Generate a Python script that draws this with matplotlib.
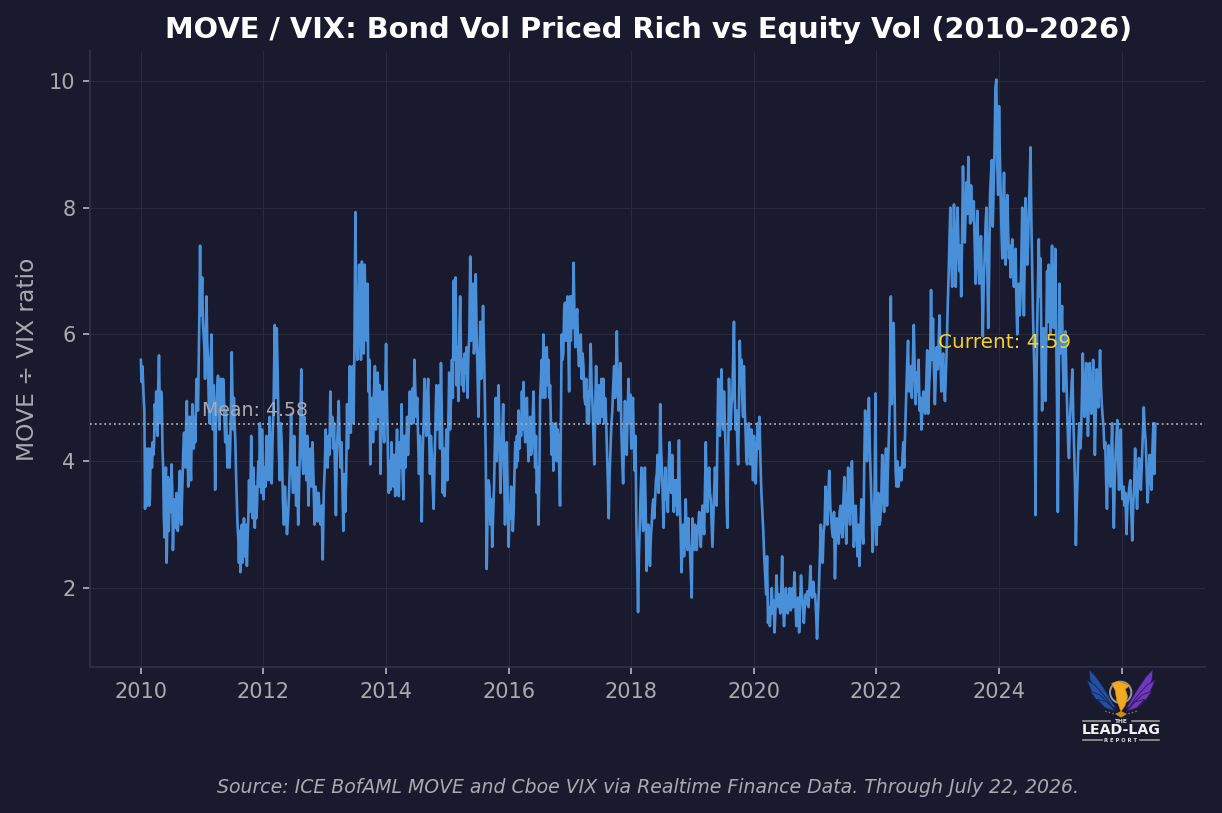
import numpy as np
import matplotlib
matplotlib.use('Agg')
import matplotlib.pyplot as plt
from matplotlib.patches import Polygon, Circle

# MOVE / VIX ratio, one list per calendar year, spread evenly across the year
ratio2010 = [5.6, 5.25, 5.5, 5.3, 5.0, 4.8, 3.25, 4.0, 4.2, 3.3, 3.9, 4.2, 3.3, 3.4, 4.2, 4.0, 3.9, 4.3, 4.1, 4.3,
             4.9, 4.7, 5.1, 4.5, 4.4, 5.2, 5.67, 4.9, 4.6, 5.1, 5.0, 4.2, 3.9, 3.1, 2.8, 3.6, 3.9, 2.4, 3.0, 3.75,
             2.9, 3.3, 3.7, 3.2, 3.95, 3.6, 2.6, 3.0, 3.4, 2.95, 3.0, 3.5, 3.3, 2.9, 3.1, 3.6, 3.85, 3.2, 3.0, 3.4,
             3.8, 4.2, 4.45, 4.0, 3.9, 4.6, 4.95, 4.2, 3.6, 4.2, 4.7, 4.0, 3.7, 4.5, 4.9, 4.3, 4.2, 4.7, 4.3, 4.8,
             5.3, 4.9, 4.8, 5.6, 6.3, 7.4, 6.3, 6.5]
ratio2011 = [6.9, 6.2, 6.0, 5.8, 5.3, 6.0, 6.6, 5.9, 5.6, 5.0, 4.6, 5.5, 5.7, 6.0, 5.0, 4.5, 5.2, 4.7, 3.55, 4.5,
             4.9, 5.2, 5.35, 4.9, 4.5, 5.0, 5.3, 5.0, 4.8, 5.3, 5.1, 4.6, 4.3, 4.8, 4.4, 3.9, 4.2, 4.4, 3.9, 4.3,
             4.9, 5.72, 5.0, 4.5, 5.0, 4.6, 4.3, 3.8, 3.4, 3.0, 2.8, 2.4, 2.9, 2.25, 2.6, 3.0, 2.4, 2.8, 3.1, 2.5,
             2.9, 3.0, 2.35, 2.8, 3.1, 3.7, 3.2, 3.6, 4.4, 3.6, 3.1, 3.9, 3.4, 2.95, 3.6, 3.1, 3.3, 3.7, 4.0, 3.6,
             4.6, 4.0, 3.5, 4.5, 3.9]
ratio2012 = [3.4, 3.9, 3.6, 4.4, 3.9, 3.7, 4.7, 4.1, 3.65, 4.4, 5.0, 6.15, 5.0, 6.1, 5.3, 4.2, 3.7, 4.6, 4.2, 3.4,
             3.0, 3.6, 3.2, 2.85, 3.1, 3.5, 4.0, 4.75, 3.9, 3.5, 4.4, 3.8, 3.3, 3.9, 3.0, 3.7, 4.5, 5.45, 4.1, 3.8,
             4.7, 4.1, 3.7, 4.4, 3.3, 3.8, 4.2, 3.6, 4.3, 3.7, 3.0, 3.6, 3.4, 3.05, 3.5, 3.1, 3.0, 3.3, 2.45, 3.5]
ratio2013 = [3.9, 4.5, 4.0, 3.9, 4.4, 4.1, 5.1, 4.4, 4.7, 4.2, 4.6, 3.9, 3.15, 4.2, 4.5, 4.95, 4.3, 3.9, 4.3, 3.6,
             2.9, 3.8, 3.2, 3.7, 4.9, 4.2, 4.7, 5.5, 4.45, 5.1, 5.5, 4.6, 5.9, 7.93, 6.2, 5.6, 6.0, 7.1, 6.1, 5.6,
             7.15, 6.0, 5.7, 7.1, 6.2, 5.9, 6.8, 5.1, 5.6, 3.95, 4.7, 5.0, 4.3, 5.1, 5.5, 4.5, 5.1, 5.4, 4.7, 5.2,
             3.8, 4.6, 5.1, 4.6, 4.3, 5.0]
ratio2014 = [5.85, 4.9, 4.2, 3.5, 4.0, 3.55, 4.3, 3.9, 3.6, 4.1, 3.45, 4.0, 4.5, 3.7, 3.45, 4.3, 3.9, 4.9, 3.8, 3.4,
             4.4, 3.9, 4.2, 4.7, 4.1, 4.6, 5.1, 4.6, 4.8, 5.15, 4.6, 5.6, 5.1, 4.7, 5.0, 4.4, 3.8, 4.4, 4.0, 3.05,
             4.1, 4.6, 5.3, 4.8, 4.4, 5.0, 5.3, 4.5, 3.8, 4.4, 4.1, 3.6, 3.25, 4.0, 4.6, 5.2, 4.5, 4.7, 5.2, 4.2,
             5.55, 4.7, 3.5, 4.2, 3.45, 4.0, 4.5]
ratio2015 = [3.7, 4.6, 5.4, 4.5, 5.0, 5.6, 5.0, 6.85, 5.6, 6.9, 5.2, 5.8, 4.95, 6.0, 6.6, 5.6, 5.2, 5.6, 5.1, 5.7,
             5.4, 5.8, 5.0, 5.7, 6.0, 7.23, 5.9, 6.4, 6.8, 5.7, 5.9, 6.95, 6.0, 5.4, 4.7, 5.5, 6.2, 5.3, 5.8, 6.45,
             5.8, 5.0, 4.0, 2.3, 3.2, 3.7, 3.6, 3.0, 3.4, 2.65, 3.1, 3.6, 4.3, 5.0, 4.0, 4.5, 5.2, 4.4, 3.5, 4.0,
             4.4, 4.9, 4.0, 3.0, 3.8, 4.3, 3.4]
ratio2016 = [2.65, 3.3, 3.1, 3.6, 3.4, 2.9, 3.2, 3.8, 4.3, 3.9, 4.4, 4.0, 4.8, 4.2, 4.6, 4.4, 5.1, 4.5, 5.25, 4.6,
             4.3, 4.8, 5.0, 4.4, 4.0, 4.5, 4.7, 4.1, 4.2, 4.7, 5.1, 4.4, 3.9, 4.4, 3.5, 3.9, 3.0, 3.7, 5.0, 5.3,
             5.6, 5.0, 6.0, 5.4, 5.0, 5.5, 5.8, 5.2, 5.6, 5.0, 5.2, 4.6, 4.1, 4.6, 3.85, 4.4, 4.2, 4.6, 4.0, 4.5,
             4.4, 3.9, 3.3, 4.5, 6.0, 5.6, 5.7, 6.4, 6.5, 5.9, 6.3, 6.6, 5.8, 5.1]
ratio2017 = [6.6, 5.9, 6.6, 6.1, 7.13, 6.3, 5.8, 6.2, 6.4, 5.8, 5.5, 5.8, 6.0, 5.3, 5.7, 5.5, 5.0, 4.9, 5.3, 4.6,
             5.1, 4.6, 5.2, 5.85, 5.2, 4.9, 4.4, 3.95, 4.8, 5.5, 4.9, 4.6, 5.2, 4.6, 5.0, 5.3, 4.7, 5.3, 4.6, 5.0,
             4.7, 4.2, 3.7, 3.1, 3.8, 4.2, 4.6, 4.8, 5.2, 5.5, 5.0, 5.4, 6.05, 5.2, 4.8, 5.2, 5.55, 4.5, 4.0, 3.65,
             4.4, 4.95, 4.4, 4.1, 4.8, 5.3, 4.6, 5.05]
ratio2018 = [4.2, 4.7, 5.0, 4.3, 3.85, 4.4, 3.0, 2.4, 1.62, 2.5, 3.0, 3.5, 3.9, 3.2, 2.9, 3.4, 3.9, 3.2, 2.27, 2.8,
             3.0, 2.6, 2.35, 2.8, 3.0, 3.3, 3.4, 3.1, 3.4, 3.7, 3.8, 4.1, 3.5, 3.7, 4.9, 4.2, 3.9, 3.4, 2.95, 3.5,
             3.9, 3.4, 3.6, 3.2, 3.9, 4.3, 3.6, 3.5, 4.1, 3.6, 3.2, 3.7, 3.3, 3.7, 3.15, 3.6, 4.33, 3.4, 2.9, 2.25,
             2.7, 3.0, 2.5, 2.9, 3.4, 2.8, 2.6, 3.1, 2.7, 2.6, 2.2, 1.85]
ratio2019 = [3.1, 2.7, 2.6, 3.0, 2.8, 2.6, 2.9, 3.0, 3.2, 2.9, 2.65, 3.0, 3.3, 3.1, 2.85, 3.6, 4.3, 3.5, 3.2, 3.6,
             3.9, 3.5, 3.4, 3.0, 2.65, 3.1, 3.5, 3.9, 3.7, 3.3, 4.4, 5.3, 4.6, 4.4, 5.0, 5.45, 4.7, 4.5, 5.1, 4.6,
             4.1, 3.4, 2.95, 4.0, 5.3, 4.8, 4.5, 4.9, 5.0, 5.6, 6.2, 5.0, 4.5, 4.8, 4.3, 3.95, 4.8, 5.9, 5.3, 5.6,
             5.0, 4.7, 5.5, 4.8, 4.5, 4.0, 3.95, 4.4, 4.6, 4.2, 3.95, 4.5, 4.3, 3.7]
ratio2020 = [4.4, 4.1, 3.65, 4.2, 4.6, 4.2, 4.7, 4.0, 3.5, 3.2, 2.9, 2.5, 2.2, 1.9, 2.5, 1.45, 1.7, 1.4, 1.7, 2.0,
             1.6, 1.8, 1.3, 1.7, 2.2, 1.8, 1.7, 1.9, 1.6, 1.9, 2.5, 1.7, 1.4, 1.7, 2.0, 1.7, 1.6, 1.85, 2.0, 1.65,
             1.7, 2.0, 1.7, 2.25, 1.8, 1.4, 1.65, 1.85, 1.3, 1.7, 2.2, 1.9, 1.75, 1.45, 1.7, 1.9, 1.75, 1.95, 1.7,
             2.0, 2.35, 1.9, 1.85, 2.1, 1.9]
ratio2021 = [1.9, 1.6, 1.2, 1.6, 2.0, 2.5, 3.0, 2.6, 2.4, 2.9, 3.0, 3.6, 3.2, 3.0, 3.5, 3.85, 3.3, 3.1, 2.9, 2.8,
             3.2, 2.15, 2.8, 3.1, 2.9, 2.7, 3.2, 3.3, 2.9, 2.8, 3.4, 3.75, 3.1, 2.7, 3.3, 3.9, 3.3, 3.0, 3.6, 4.0,
             3.3, 2.65, 3.0, 3.3, 2.8, 2.5, 3.0, 2.35, 2.9, 3.4, 3.0, 2.7, 3.9, 4.8, 4.3, 4.0, 4.5, 5.0, 4.2, 3.7,
             3.2, 2.57, 3.0, 3.5, 5.07]
ratio2022 = [2.68, 3.2, 3.5, 3.0, 3.07, 3.4, 4.1, 3.6, 3.2, 3.8, 4.2, 3.3, 3.9, 4.4, 5.0, 6.6, 4.9, 5.6, 6.18, 5.0,
             3.85, 3.6, 4.0, 3.6, 3.75, 3.9, 3.7, 4.0, 4.3, 3.9, 4.5, 5.0, 5.5, 5.9, 5.1, 5.3, 5.5, 5.0, 5.6, 6.15,
             5.4, 4.9, 5.4, 5.1, 5.6, 4.8, 5.0, 4.5, 4.9, 5.1, 4.8, 4.75, 5.2, 5.75, 4.75, 5.2, 5.5, 6.7, 5.6, 6.25,
             5.5, 4.9, 5.4, 5.8]
ratio2023 = [5.45, 5.9, 6.3, 5.6, 5.1, 5.5, 5.7, 5.2, 4.95, 5.4, 5.8, 6.4, 6.9, 7.5, 8.0, 7.2, 6.75, 7.4, 8.05, 7.3,
             6.75, 7.6, 8.0, 7.4, 7.0, 7.4, 6.6, 7.5, 8.65, 7.9, 7.45, 8.0, 8.4, 7.9, 8.8, 8.1, 7.75, 8.35, 7.9,
             7.8, 8.1, 7.4, 6.8, 7.4, 7.95, 7.2, 6.8, 7.2, 7.55, 6.8, 5.97, 6.8, 7.2, 7.7, 8.0, 7.0, 6.1, 7.0, 8.2,
             8.5, 8.75, 7.7, 8.3, 8.9, 9.9, 10.02, 8.7, 8.2]
ratio2024 = [9.6, 8.8, 8.2, 7.6, 7.2, 8.0, 8.55, 7.7, 7.1, 7.8, 8.2, 7.6, 7.2, 7.4, 6.9, 7.3, 7.5, 7.0, 6.75, 7.1,
             7.35, 6.5, 6.0, 6.5, 6.8, 6.3, 6.6, 7.2, 8.0, 7.0, 6.3, 7.2, 8.15, 7.5, 7.1, 7.4, 7.97, 8.4, 8.95, 7.8,
             7.0, 6.3, 5.75, 5.2, 3.15, 5.0, 6.1, 6.8, 7.5, 6.6, 7.2, 6.0, 4.8, 5.5, 6.1, 5.5, 4.95, 6.0, 7.0, 6.2,
             7.1, 6.5, 6.0, 6.9, 7.4, 6.5, 6.1, 6.9, 7.35, 6.0, 4.9, 3.2, 5.0, 6.8]
ratio2025 = [5.7, 6.1, 6.45, 5.5, 5.1, 5.6, 6.05, 5.3, 4.8, 4.3, 4.05, 4.6, 4.9, 5.2, 5.45, 4.7, 4.2, 3.6, 2.68, 3.3,
             3.75, 4.3, 4.6, 4.2, 4.4, 5.0, 5.7, 5.0, 4.7, 5.2, 5.55, 4.9, 4.4, 5.0, 5.55, 5.1, 4.75, 5.2, 5.6, 5.0,
             4.1, 4.8, 5.45, 5.0, 4.85, 5.3, 5.75, 5.2, 4.9, 4.7, 4.55, 4.2, 4.3, 3.7, 3.25, 3.9, 4.25, 3.8, 3.6,
             4.1, 4.6, 3.6, 2.95, 3.7, 4.1, 4.4, 4.65, 4.0, 3.55, 4.0, 4.5]
ratio2026 = [3.65, 3.4, 3.6, 3.3, 3.5, 2.85, 3.3, 3.45, 3.6, 3.7, 3.2, 2.75, 3.3, 3.6, 4.2, 3.6, 3.25, 3.7, 4.05,
             3.7, 3.55, 4.0, 4.4, 4.85, 4.5, 4.3, 3.8, 3.35, 3.7, 4.1, 3.8, 3.55, 4.2, 4.6, 3.8, 4.59]

ratioYears = [ratio2010, ratio2011, ratio2012, ratio2013, ratio2014, ratio2015, ratio2016, ratio2017, ratio2018,
              ratio2019, ratio2020, ratio2021, ratio2022, ratio2023, ratio2024, ratio2025]

meanRatio = 4.58
currentRatio = 4.59
lastYearSpan = 0.55

yearTicks = [2010, 2012, 2014, 2016, 2018, 2020, 2022, 2024, 2026]
yearLabels = ['2010', '2012', '2014', '2016', '2018', '2020', '2022', '2024']
ratioTicks = [2, 4, 6, 8, 10]

bgCol = '#1a1a2e'
lineCol = '#4a90d9'
greyCol = '#aaaab2'

times = []
vals = []
for yearInd, yearVals in enumerate(ratioYears):
    times += list(2010 + yearInd + np.arange(len(yearVals)) / len(yearVals))
    vals += yearVals
times += list(np.linspace(2026, 2026 + lastYearSpan, len(ratio2026)))
vals += ratio2026

fig = plt.figure(figsize=(12.22, 8.13), dpi=100, facecolor=bgCol)
ax = fig.add_axes([90 / 1222, 1 - 667 / 813, 1115 / 1222, 616 / 813], facecolor=bgCol)

ax.plot(times, vals, color=lineCol, lw=1.9, zorder=3)
ax.axhline(meanRatio, color=greyCol, ls=':', lw=1.3, zorder=4)
ax.text(2011.0, meanRatio + 0.14, 'Mean: %.2f' % meanRatio, color=greyCol, fontsize=13.6, zorder=5)
ax.text(2023.0, 5.78, 'Current: %.2f' % currentRatio, color='#f5d327', fontsize=14.4, zorder=5)

ax.set_xlim(2009.17, 2027.36)
ax.set_ylim(0.755, 10.47)
ax.set_xticks(yearTicks)
ax.set_xticklabels(yearLabels + [''])
ax.set_yticks(ratioTicks)
ax.tick_params(colors=greyCol, labelsize=15, length=5, width=1.3, pad=5.5)
ax.grid(True, color='#2a2a3e', lw=0.8, zorder=0)
ax.set_axisbelow(True)
ax.spines['top'].set_visible(False)
ax.spines['right'].set_visible(False)
ax.spines['left'].set_color('#2f2f45')
ax.spines['bottom'].set_color('#2f2f45')
ax.spines['left'].set_linewidth(1.3)
ax.spines['bottom'].set_linewidth(1.3)
ax.set_ylabel('MOVE ÷ VIX ratio', color=greyCol, fontsize=16.8, labelpad=7)

fig.text(649 / 1222, 1 - 29.5 / 813, 'MOVE / VIX: Bond Vol Priced Rich vs Equity Vol (2010–2026)', color='white',
         fontsize=20.76, fontweight='bold', ha='center', va='center')
fig.text(648 / 1222, 1 - 787 / 813, 'Source: ICE BofAML MOVE and Cboe VIX via Realtime Finance Data. Through July 22, 2026.',
         color=greyCol, fontsize=13.6, style='italic', ha='center', va='center')

# logo, in its own little axes below the last tick
logo = fig.add_axes([1060 / 1222, 1 - 755 / 813, 130 / 1222, 100 / 813])
logo.set_xlim(0, 390)
logo.set_ylim(300, 0)
logo.axis('off')
logo.patch.set_alpha(0)

feathers = [[(87, 43), (108, 65), (135, 105), (168, 160), (140, 150), (105, 105), (90, 75)],
            [(80, 75), (105, 90), (140, 130), (160, 160), (125, 135), (95, 110)],
            [(90, 108), (120, 120), (150, 148), (165, 165), (125, 150), (105, 130)],
            [(112, 133), (140, 140), (168, 170), (135, 158)]]
logo.add_patch(Circle((182, 112), 32, fc='none', ec='#9a9aa2', lw=1.4))
for feather in feathers:
    logo.add_patch(Polygon(feather, fc='#24509f', ec='#12244f', lw=0.6))
    logo.add_patch(Polygon([(366 - x, y) for x, y in feather], fc='#6f38bd', ec='#2d1a5a', lw=0.6))
logo.add_patch(Polygon([(155, 85), (175, 78), (210, 92), (196, 102), (203, 125), (195, 152), (183, 170), (170, 135),
                        (165, 105)], fc='#eeaa22', ec='#c88510', lw=0.4))
logo.add_patch(Polygon([(165, 177), (183, 168), (201, 177), (183, 188)], fc='#c98a1c', ec='none'))
for side in [-1, 1]:
    logo.plot([183 + side * 22, 183 + side * 50], [176, 168], color='#8a7f60', lw=1.0, ls=':')

ruleCol = '#9a9a92'
logo.plot([70, 150], [198, 198], color=ruleCol, lw=1.2)
logo.plot([215, 297], [198, 198], color=ruleCol, lw=1.2)
logo.plot([68, 125], [255, 255], color=ruleCol, lw=1.2)
logo.plot([240, 297], [255, 255], color=ruleCol, lw=1.2)
logo.text(183, 198, 'THE', color='#dddddd', fontsize=4.2, fontweight='bold', ha='center', va='center')
logo.text(183, 226, 'LEAD-LAG', color='#f2f2f2', fontsize=10.2, fontweight='bold', ha='center', va='center')
logo.text(183, 255, 'R E P O R T', color='#dddddd', fontsize=3.8, fontweight='bold', ha='center', va='center')

fig.savefig('out.png', dpi=100, facecolor=bgCol)
